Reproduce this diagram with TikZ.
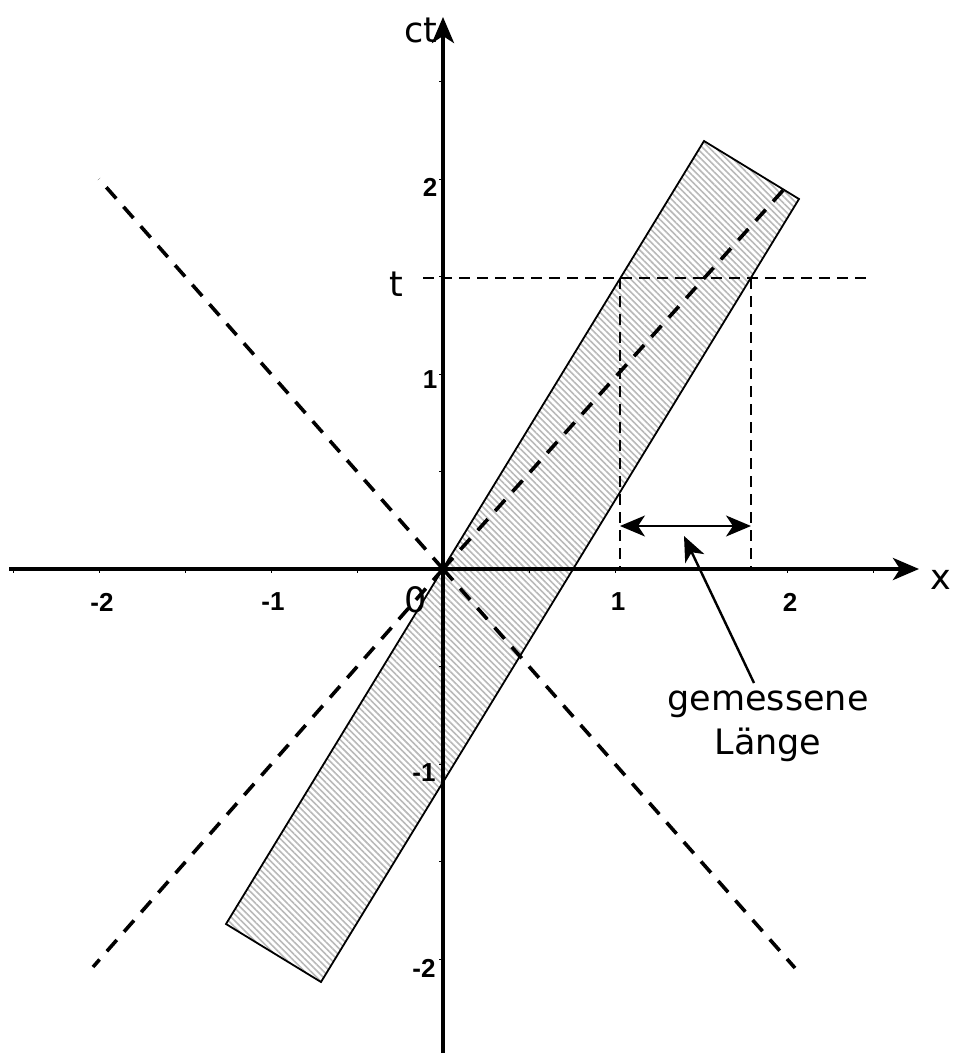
\documentclass[tikz,border=0pt]{standalone}
\usepackage{fontspec}
\setmainfont{DejaVu Sans}
\newfontfamily\tickfont{Liberation Sans Bold}
\usetikzlibrary{arrows.meta,patterns.meta}
\begin{document}
\begin{tikzpicture}[x=1pt,y=-1pt,
  axis/.style={line width=4pt,-{Stealth[length=26pt,width=22pt,inset=7pt]}},
  cone/.style={line width=3.6pt,dash pattern=on 15pt off 11pt},
  helper/.style={line width=1.8pt,dash pattern=on 11pt off 7pt},
  rod/.style={draw,line width=1.8pt,pattern={Lines[angle=-45,distance=4.5pt,line width=1.6pt]},pattern color=gray!55},
  tickmark/.style={line width=0.8pt},
  ticklbl/.style={font=\tickfont\fontsize{26}{30}\selectfont,inner sep=0pt},
  lbl/.style={font=\fontsize{35}{44}\selectfont,inner sep=0pt},
  measure/.style={line width=2pt,{Stealth[length=25pt,width=21pt,inset=7pt]}-{Stealth[length=25pt,width=21pt,inset=7pt]}},
  pointer/.style={line width=2.4pt,-{Stealth[length=25pt,width=21pt,inset=7pt]}}
]
\useasboundingbox (0,0) rectangle (961,1055);
% coordinates
\coordinate (O) at (443,569);
\coordinate (xL) at (9,569);
\coordinate (xR) at (919,569);
\coordinate (yB) at (443,1053);
\coordinate (yT) at (443,17);
% rod corners
\coordinate (TL) at (704,141);
\coordinate (TR) at (799,199);
\coordinate (BR) at (321,982);
\coordinate (BL) at (226,924);
% light cone ends
\coordinate (cUL) at (99,179);
\coordinate (cUR) at (786,187);
\coordinate (cLL) at (93,967);
\coordinate (cLR) at (795,968);
% t line and verticals
\coordinate (tL) at (423,278);
\coordinate (tR) at (866,278);
\coordinate (v1t) at (620,278);
\coordinate (v1b) at (620,569);
\coordinate (v2t) at (751,278);
\coordinate (v2b) at (751,569);
\coordinate (mA) at (620,526);
\coordinate (mB) at (751,526);
\coordinate (pS) at (754,683);
\coordinate (pT) at (684,536);

% rod
\path[rod] (TL) -- (TR) -- (BR) -- (BL) -- cycle;

% light cone
\draw[cone] (O) -- (cUL);
\draw[cone] (O) -- (cUR);
\draw[cone] (O) -- (cLL);
\draw[cone] (O) -- (cLR);

% helper dashed lines
\draw[helper] (tL) -- (tR);
\draw[helper] (v1t) -- (v1b);
\draw[helper] (v2t) -- (v2b);

% ticks
\foreach \k in {-5,...,-1,1,2,3,4,5}
  \draw[tickmark] (443+86*\k,569) -- (443+86*\k,573);
\foreach \k in {-5,...,-1,1,2,3,4,5}
  \draw[tickmark] (443,569-97.5*\k) -- (439,569-97.5*\k);

% axes
\draw[axis] (xL) -- (xR);
\draw[axis] (yB) -- (yT);

% tick labels
\node[ticklbl] (lxm2) at (102,602) {-2};
\node[ticklbl] (lxm1) at (273,602) {-1};
\node[ticklbl] (lx1) at (618,602) {1};
\node[ticklbl] (lx2) at (790,602) {2};
\node[ticklbl] (ly2) at (430,187) {2};
\node[ticklbl] (ly1) at (430,380) {1};
\node[ticklbl] (lym1) at (424,773) {-1};
\node[ticklbl] (lym2) at (424,968) {-2};

% labels
\node[lbl] (ct) at (421,30) {ct};
\node[lbl] (xlab) at (941,580) {x};
\node[lbl] (tlab) at (396,284) {t};
\node[lbl] (zero) at (416,600) {0};
\node[lbl,align=center] (txt) at (768,726) {gemessene\\Länge};

% measured length
\draw[measure] (mA) -- (mB);
\draw[pointer] (pS) -- (pT);
\end{tikzpicture}
\end{document}
